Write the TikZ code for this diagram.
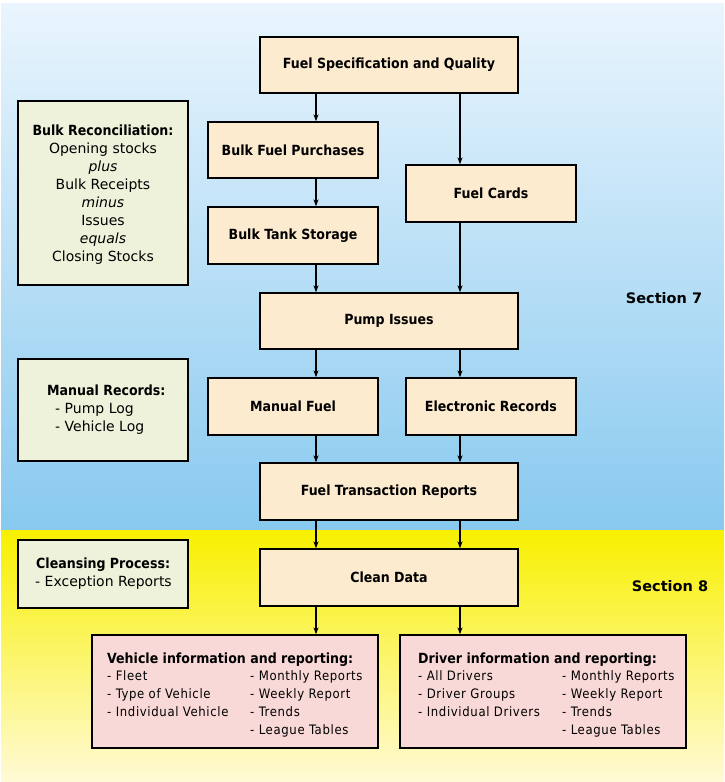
\documentclass[tikz,border=0pt]{standalone}
\usepackage{fontspec}
\setmainfont{DejaVu Sans}
\newfontfamily\condfont{DejaVu Sans Condensed}
\newfontfamily\spacedfont[LetterSpace=5]{DejaVu Sans Condensed}
\usetikzlibrary{arrows.meta}
\definecolor{peach}{HTML}{FDEBD0}
\definecolor{notefill}{HTML}{EEF2DA}
\definecolor{pinkfill}{HTML}{F9D9D7}
\definecolor{bluetop}{HTML}{EAF5FD}
\definecolor{bluebot}{HTML}{88C9EF}
\definecolor{yeltop}{HTML}{F8F000}
\definecolor{yelbot}{HTML}{FFFAD6}
\begin{document}
\begin{tikzpicture}[x=1pt,y=-1pt,
  procbox/.style={draw=black,line width=1.3pt,fill=peach,inner sep=0pt,
    font=\condfont\fontsize{14}{16}\selectfont\bfseries},
  notebox/.style={draw=black,line width=1.3pt,fill=notefill,inner sep=0pt},
  repbox/.style={draw=black,line width=1.3pt,fill=pinkfill,inner sep=0pt},
  notetext/.style={inner sep=0pt,font=\fontsize{14}{18}\selectfont,align=center},
  itemtext/.style={inner sep=0pt,anchor=base west,font=\spacedfont\fontsize{13}{15}\selectfont},
  plaintext/.style={inner sep=0pt,anchor=base west,font=\fontsize{14}{16}\selectfont},
  headtext/.style={inner sep=0pt,anchor=base west,font=\condfont\fontsize{14}{16}\selectfont\bfseries},
  sectext/.style={inner sep=0pt,font=\fontsize{14.5}{16}\selectfont\bfseries},
  arr/.style={-{Stealth[length=7pt,width=5pt]},line width=1.2pt}]
\useasboundingbox (0,0) rectangle (724,782);
\fill[white] (0,0) rectangle (724,782);
\shade[top color=bluetop,bottom color=bluebot] (1,3) rectangle (724,530);
\shade[top color=yeltop,bottom color=yelbot] (1,530) rectangle (724,782);
\coordinate (L) at (316,0);
\coordinate (R) at (460,0);
% process boxes
\node[procbox,minimum width=258pt,minimum height=56pt] (spec) at (389,65) {Fuel Specification and Quality};
\node[procbox,minimum width=170pt,minimum height=56pt] (bfp) at (293,150) {Bulk Fuel Purchases};
\node[procbox,minimum width=170pt,minimum height=57pt] (bts) at (293,235.5) {Bulk Tank Storage};
\node[procbox,minimum width=170pt,minimum height=57pt] (cards) at (491,193.5) {Fuel Cards};
\node[procbox,minimum width=258pt,minimum height=56pt] (pump) at (389,321) {Pump Issues};
\node[procbox,minimum width=170pt,minimum height=57pt] (manual) at (293,406.5) {Manual Fuel};
\node[procbox,minimum width=170pt,minimum height=57pt] (elec) at (491,406.5) {Electronic Records};
\node[procbox,minimum width=258pt,minimum height=57pt] (ftr) at (389,491.5) {Fuel Transaction Reports};
\node[procbox,minimum width=258pt,minimum height=57pt] (clean) at (389,577.5) {Clean Data};
% report boxes
\node[repbox,minimum width=286pt,minimum height=113pt] (veh) at (235,691.5) {};
\node[repbox,minimum width=286pt,minimum height=113pt] (drv) at (543,691.5) {};
\node[headtext] (vehh) at (107,663) {Vehicle information and reporting:};
\node[itemtext] (veh1) at (107,680) {- Fleet};
\node[itemtext] (veh2) at (107,698) {- Type of Vehicle};
\node[itemtext] (veh3) at (107,716) {- Individual Vehicle};
\node[itemtext] (veh4) at (250,680) {- Monthly Reports};
\node[itemtext] (veh5) at (250,698) {- Weekly Report};
\node[itemtext] (veh6) at (250,716) {- Trends};
\node[itemtext] (veh7) at (250,734) {- League Tables};
\node[headtext] (drvh) at (418,663) {Driver information and reporting:};
\node[itemtext] (drv1) at (418,680) {- All Drivers};
\node[itemtext] (drv2) at (418,698) {- Driver Groups};
\node[itemtext] (drv3) at (418,716) {- Individual Drivers};
\node[itemtext] (drv4) at (562,680) {- Monthly Reports};
\node[itemtext] (drv5) at (562,698) {- Weekly Report};
\node[itemtext] (drv6) at (562,716) {- Trends};
\node[itemtext] (drv7) at (562,734) {- League Tables};
% note boxes
\node[notebox,minimum width=170pt,minimum height=184pt] (bulk) at (103,193) {};
\node[notetext] (bulkt) at (103,195) {{\condfont\bfseries Bulk Reconciliation:}\\Opening stocks\\\textit{plus}\\Bulk Receipts\\\textit{minus}\\Issues\\\textit{equals}\\Closing Stocks};
\node[notebox,minimum width=170pt,minimum height=102pt] (manrec) at (103,410) {};
\node[headtext] (manrech) at (47,395) {Manual Records:};
\node[plaintext] (manrec1) at (55,413) {- Pump Log};
\node[plaintext] (manrec2) at (55,431) {- Vehicle Log};
\node[notebox,minimum width=170pt,minimum height=68pt] (cleanse) at (103,574) {};
\node[headtext] (cleanseh) at (36,568) {Cleansing Process:};
\node[plaintext] (cleanse1) at (35,586) {- Exception Reports};
% section labels
\node[sectext] (sec7) at (664,298) {Section 7};
\node[sectext] (sec8) at (670,586) {Section 8};
% arrows
\draw[arr] (spec.south -| L) -- (bfp.north -| L);
\draw[arr] (spec.south -| R) -- (cards.north -| R);
\draw[arr] (bfp.south -| L) -- (bts.north -| L);
\draw[arr] (bts.south -| L) -- (pump.north -| L);
\draw[arr] (cards.south -| R) -- (pump.north -| R);
\draw[arr] (pump.south -| L) -- (manual.north -| L);
\draw[arr] (pump.south -| R) -- (elec.north -| R);
\draw[arr] (manual.south -| L) -- (ftr.north -| L);
\draw[arr] (elec.south -| R) -- (ftr.north -| R);
\draw[arr] (ftr.south -| L) -- (clean.north -| L);
\draw[arr] (ftr.south -| R) -- (clean.north -| R);
\draw[arr] (clean.south -| L) -- (veh.north -| L);
\draw[arr] (clean.south -| R) -- (drv.north -| R);
\end{tikzpicture}
\end{document}
